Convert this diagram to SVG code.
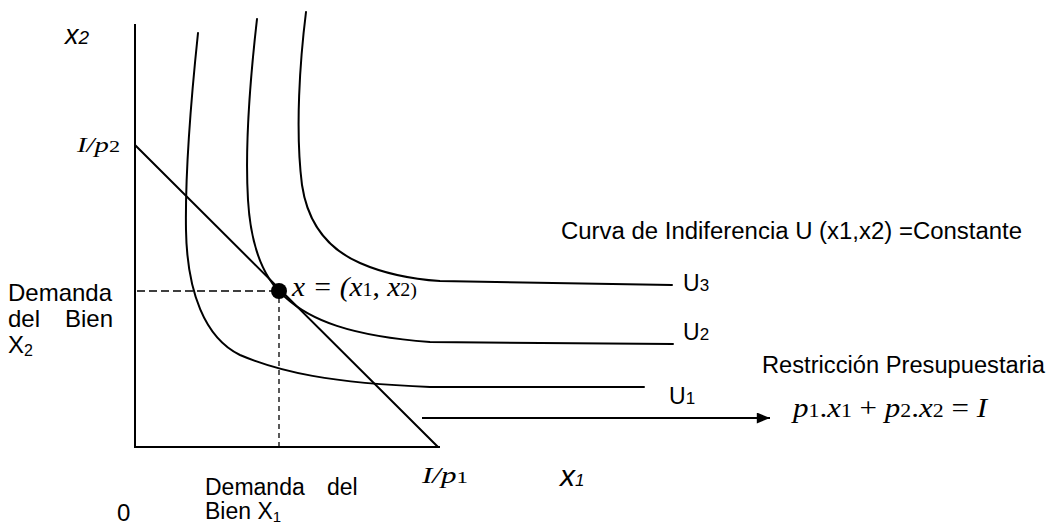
<svg xmlns="http://www.w3.org/2000/svg" width="1050" height="527" viewBox="0 0 1050 527">
<defs>
<style>
.ax{stroke:#000;stroke-width:2;fill:none}
.cv{stroke:#000;stroke-width:2;fill:none;stroke-linecap:round}
.ds{stroke:#000;stroke-width:1.3;fill:none}
.sans{font-family:"Liberation Sans",Arial,sans-serif;fill:#000}
.ser{font-family:"Liberation Serif","Times New Roman",serif;font-style:italic;fill:#000}
.up{font-style:normal}
</style>
<marker id="ah" viewBox="0 0 12 10" refX="12" refY="5" markerWidth="14" markerHeight="11" markerUnits="userSpaceOnUse" orient="auto">
<path d="M0,0 L12,5 L0,10 Z" fill="#000"/>
</marker>
</defs>
<rect width="1050" height="527" fill="#fff"/>
<g id="axes">
<line class="ax" x1="135" y1="24" x2="135" y2="448"/>
<line class="ax" x1="134" y1="447" x2="440" y2="447"/>
</g>
<g id="connectors">
<line class="cv" x1="135" y1="145" x2="438" y2="447"/>
<line class="ds" x1="137" y1="291" x2="272" y2="291" stroke-dasharray="8,4"/>
<line class="ds" x1="279" y1="298" x2="279" y2="446" stroke-dasharray="5,4"/>
<line class="ax" x1="422" y1="418" x2="770" y2="418" marker-end="url(#ah)"/>
</g>
<g id="U1">
<path class="cv" d="M198,33 C192,90 185,170 186,230 C187,292 205,338 240,355 C280,372 330,383 430,387 L644,387"/>
<text class="sans" x="669" y="404" font-size="23">U<tspan font-size="17">1</tspan></text>
</g>
<g id="U2">
<path class="cv" d="M257,19 C250,80 245,150 248,200 C251,250 265,280 285,297 C310,320 350,336 430,342 L673,344"/>
<text class="sans" x="683" y="340" font-size="23">U<tspan font-size="17">2</tspan></text>
</g>
<g id="U3">
<path class="cv" d="M306,12 C300,60 295,130 302,185 C308,225 330,250 360,263 C385,274 410,279 440,281 L672,285"/>
<text class="sans" x="683" y="291" font-size="23">U<tspan font-size="17">3</tspan></text>
</g>
<g id="point">
<circle cx="279" cy="291" r="8" fill="#000"/>
<text class="ser" x="292" y="296" font-size="28" textLength="125" lengthAdjust="spacingAndGlyphs">x = (x<tspan class="up" font-size="19">1</tspan><tspan class="up">, </tspan>x<tspan class="up" font-size="19">2)</tspan></text>
</g>
<g id="labels">
<text class="sans" x="65" y="44" font-size="27" font-style="italic">x<tspan font-size="19">2</tspan></text>
<text class="ser" x="77" y="152" font-size="22" textLength="43" lengthAdjust="spacingAndGlyphs">I/p<tspan class="up" font-size="17">2</tspan></text>
<text class="ser" x="422" y="483" font-size="23" textLength="46" lengthAdjust="spacingAndGlyphs">I/p<tspan class="up" font-size="17">1</tspan></text>
<text class="sans" x="560" y="486" font-size="30" font-style="italic">x<tspan font-size="17">1</tspan></text>
<text class="sans" x="117" y="521" font-size="24">0</text>
<text class="sans" x="561" y="239" font-size="23" textLength="461" lengthAdjust="spacingAndGlyphs">Curva de Indiferencia U (x1,x2) =Constante</text>
<text class="sans" x="762" y="373" font-size="23" textLength="283" lengthAdjust="spacingAndGlyphs">Restricción Presupuestaria</text>
<text class="ser" x="793" y="417" font-size="27" textLength="194" lengthAdjust="spacingAndGlyphs">p<tspan class="up" font-size="19">1</tspan><tspan class="up">.</tspan>x<tspan class="up" font-size="19">1</tspan><tspan class="up"> + </tspan>p<tspan class="up" font-size="19">2</tspan><tspan class="up">.</tspan>x<tspan class="up" font-size="19">2</tspan><tspan class="up"> = </tspan>I</text>
<text class="sans" x="8" y="301" font-size="24">Demanda</text>
<text class="sans" x="8" y="327" font-size="24">del<tspan x="65">Bien</tspan></text>
<text class="sans" x="8" y="353" font-size="24">X<tspan font-size="16" dy="3">2</tspan></text>
<text class="sans" x="205" y="495" font-size="23">Demanda<tspan x="327">del</tspan></text>
<text class="sans" x="205" y="519" font-size="23">Bien X<tspan font-size="15" dy="3">1</tspan></text>
</g>
</svg>
